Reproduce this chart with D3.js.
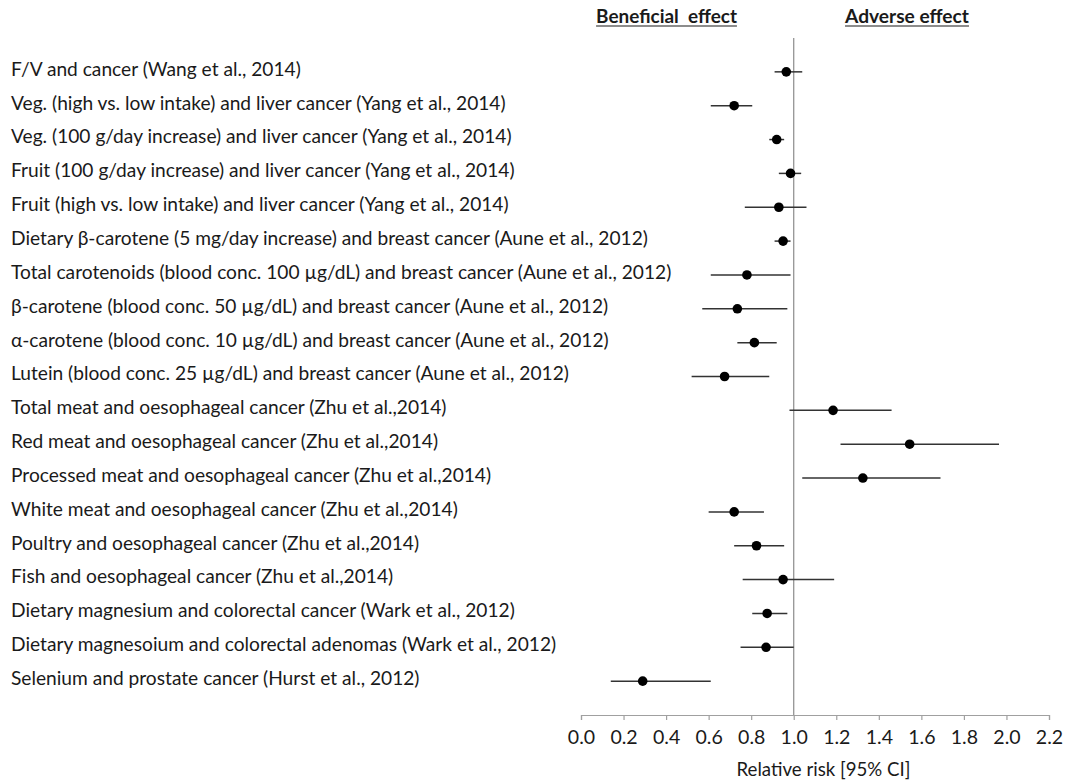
<!DOCTYPE html>
<html>
<head>
<meta charset="utf-8">
<script src="https://cdn.jsdelivr.net/npm/d3@7"></script>
<style>
  body { margin: 0; background: #fff; }
  text { font-family: Lato, "Open Sans", sans-serif; fill: #1a1a1a; }
</style>
</head>
<body>
<div id="chart"></div>
<script>
// rows of the forest plot, top to bottom
const labels = [
  "F/V and cancer (Wang et al., 2014)",
  "Veg. (high vs. low intake) and liver cancer (Yang et al., 2014)",
  "Veg. (100 g/day increase) and liver cancer (Yang et al., 2014)",
  "Fruit (100 g/day increase) and liver cancer (Yang et al., 2014)",
  "Fruit (high vs. low intake) and liver cancer (Yang et al., 2014)",
  "Dietary \u03b2-carotene (5 mg/day increase) and breast cancer (Aune et al., 2012)",
  "Total carotenoids (blood conc. 100 \u00b5g/dL) and breast cancer (Aune et al., 2012)",
  "\u03b2-carotene (blood conc. 50 \u00b5g/dL) and breast cancer (Aune et al., 2012)",
  "\u03b1-carotene (blood conc. 10 \u00b5g/dL) and breast cancer (Aune et al., 2012)",
  "Lutein (blood conc. 25 \u00b5g/dL) and breast cancer (Aune et al., 2012)",
  "Total meat and oesophageal cancer (Zhu et al.,2014)",
  "Red meat and oesophageal cancer (Zhu et al.,2014)",
  "Processed meat and oesophageal cancer (Zhu et al.,2014)",
  "White meat and oesophageal cancer (Zhu et al.,2014)",
  "Poultry and oesophageal cancer (Zhu et al.,2014)",
  "Fish and oesophageal cancer (Zhu et al.,2014)",
  "Dietary magnesium and colorectal cancer (Wark et al., 2012)",
  "Dietary magnesoium and colorectal adenomas (Wark et al., 2012)",
  "Selenium and prostate cancer (Hurst et al., 2012)"
];
const rr    = [0.965, 0.72, 0.92, 0.985, 0.93, 0.95, 0.78, 0.735, 0.815, 0.675, 1.185, 1.545, 1.325, 0.72, 0.825, 0.95, 0.875, 0.87, 0.29];
const lower = [0.91, 0.61, 0.885, 0.93, 0.77, 0.91, 0.61, 0.57, 0.735, 0.52, 0.98, 1.22, 1.04, 0.60, 0.72, 0.76, 0.805, 0.75, 0.14];
const upper = [1.04, 0.805, 0.955, 1.035, 1.06, 0.985, 0.985, 0.97, 0.92, 0.885, 1.46, 1.965, 1.69, 0.86, 0.955, 1.19, 0.97, 1.00, 0.61];
const xTicks = [0, 0.2, 0.4, 0.6, 0.8, 1.0, 1.2, 1.4, 1.6, 1.8, 2.0, 2.2];
const headers = ["Beneficial\u00a0 effect", "Adverse effect"];
const axisTitle = "Relative risk [95% CI]";

const width = 1066, height = 782;
const rows = labels.map((l, i) => ({label: l, rr: rr[i], lo: lower[i], hi: upper[i], idx: i + 1}));

const svg = d3.select("#chart").append("svg")
    .attr("width", width)
    .attr("height", height);

const x = d3.scaleLinear().domain([0, 2.2]).range([581, 1049]);
const y = d3.scaleLinear().domain([0, rows.length + 1]).range([38, 715]);

// fit a text node to a target width
const fit = (sel, w) => {
  const cur = sel.node().getComputedTextLength();
  sel.attr("font-size", 16 * w / cur);
};

// header
const headPos = [{x: 666.5, w: 141}, {x: 907, w: 124}];
headers.forEach((h, i) => {
  const t = svg.append("text")
      .attr("x", headPos[i].x).attr("y", 23)
      .attr("text-anchor", "middle")
      .attr("font-size", 16)
      .attr("font-weight", "bold")
      .text(h);
  fit(t, headPos[i].w);
  const w = t.node().getComputedTextLength();
  svg.append("line")
      .attr("x1", headPos[i].x - w / 2).attr("x2", headPos[i].x + w / 2)
      .attr("y1", 26).attr("y2", 26)
      .attr("stroke", "#1a1a1a").attr("stroke-width", 1.2);
});

// labels, sized so the longest one spans like the original
const lab = svg.append("g").attr("class", "labels");
const lt = lab.selectAll("text")
  .data(rows)
  .enter()
  .append("text")
    .attr("x", 11)
    .attr("y", d => y(d.idx) - 1)
    .attr("dominant-baseline", "middle")
    .attr("font-size", 16)
    .text(d => d.label);
const longest = d3.max(lt.nodes(), n => n.getComputedTextLength());
const k = 661 / longest;
lt.attr("font-size", 16 * k);

// x axis
const axis = svg.append("g")
    .attr("class", "xAxes")
    .attr("transform", `translate(0,${y(rows.length + 1)})`)
    .call(d3.axisBottom(x).tickValues(xTicks).tickFormat(d3.format(".1f")).tickSize(5).tickSizeOuter(5).tickPadding(10));
axis.select(".domain").attr("stroke", "#a0a0a0").attr("stroke-width", 1.2);
axis.selectAll(".tick line").attr("stroke", "#a0a0a0").attr("stroke-width", 1.2);
axis.selectAll(".tick text")
    .attr("font-size", 16 * k * 1.02)
    .attr("font-family", "Lato, sans-serif")
    .attr("fill", "#1a1a1a");

const title = svg.append("text")
    .attr("x", 823.5)
    .attr("y", y(rows.length + 1) + 61)
    .attr("text-anchor", "middle")
    .attr("font-size", 16)
    .text(axisTitle);
fit(title, 174);

// reference line at RR = 1
svg.append("line")
    .attr("x1", x(1)).attr("x2", x(1))
    .attr("y1", y(0)).attr("y2", y(rows.length + 1))
    .attr("stroke", "#8c8c8c").attr("stroke-width", 1.2);

// confidence intervals and estimates
const marks = svg.append("g").attr("class", "markers");
marks.selectAll(".ci")
  .data(rows)
  .enter()
  .append("line")
    .attr("class", "ci")
    .attr("x1", d => x(d.lo)).attr("x2", d => x(d.hi))
    .attr("y1", d => y(d.idx)).attr("y2", d => y(d.idx))
    .attr("stroke", "#333").attr("stroke-width", 1.5);
marks.selectAll(".pt")
  .data(rows)
  .enter()
  .append("circle")
    .attr("class", "pt")
    .attr("cx", d => x(d.rr))
    .attr("cy", d => y(d.idx))
    .attr("r", 4.8)
    .attr("fill", "#000");
</script>
</body>
</html>
